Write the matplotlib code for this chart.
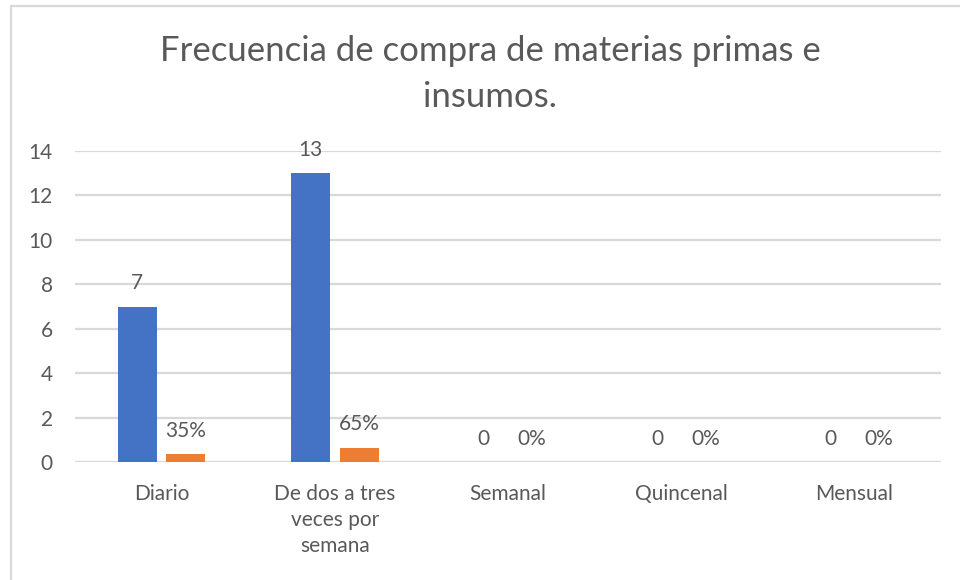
import matplotlib
matplotlib.use("Agg")
import matplotlib.pyplot as plt
from matplotlib.patches import Rectangle
import numpy as np

categories = ["Diario", "De dos a tres\nveces por\nsemana", "Semanal", "Quincenal", "Mensual"]
counts = [7, 13, 0, 0, 0]
percents = [0.35, 0.65, 0.0, 0.0, 0.0]
yticks = [0, 2, 4, 6, 8, 10, 12, 14]
title = "Frecuencia de compra de materias primas e\ninsumos."

FONT = "Lato"
TXT = "#595959"
BLUE = "#4472C4"
ORANGE = "#ED7D31"
GRID = "#D9D9D9"
FS = 15

W, H = 960, 580
fig = plt.figure(figsize=(W / 100, H / 100), dpi=100)
fig.patch.set_facecolor("white")

# chart border
fig.patches.append(Rectangle((11 / W, -0.05), 1.2, (H - 6) / H + 0.05, transform=fig.transFigure,
                             fill=False, edgecolor=GRID, linewidth=1.6))

left, right, top, bottom = 75, 941, 151, 462
ax = fig.add_axes([left / W, (H - bottom) / H, (right - left) / W, (bottom - top) / H])
x = np.arange(len(categories))
bw = 0.225
off = 0.14
ax.bar(x - off, counts, bw, color=BLUE, zorder=3)
ax.bar(x + off, percents, bw, color=ORANGE, zorder=3)

for xi, v in zip(x, counts):
    ax.annotate(f"{v}", (xi - off, v), xytext=(0, 9.5), textcoords="offset points",
                ha="center", va="bottom", fontsize=FS, color=TXT, family=FONT)
for xi, v in zip(x, percents):
    ax.annotate(f"{v:.0%}", (xi + off, v), xytext=(0, 9.5), textcoords="offset points",
                ha="center", va="bottom", fontsize=FS, color=TXT, family=FONT)

ax.set_xlim(-0.5, len(categories) - 0.5)
ax.set_ylim(0, 14)
ax.set_yticks(yticks)
ax.set_yticklabels([str(t) for t in yticks], family=FONT, fontsize=FS, color=TXT)
ax.set_xticks(x)
ax.set_xticklabels(categories, family=FONT, fontsize=FS, color=TXT, linespacing=1.38)
ax.tick_params(axis="both", length=0)
ax.tick_params(axis="y", pad=16)
ax.tick_params(axis="x", pad=16)
for s in ax.spines.values():
    s.set_visible(False)
ax.yaxis.grid(True, color=GRID, linewidth=1.6, zorder=0)
ax.set_axisbelow(True)

fig.text(490 / W, 1 - 74 / H, title, ha="center", va="center", fontsize=25,
         color=TXT, family=FONT, linespacing=1.55)

fig.savefig("out.png", dpi=100, facecolor="white")
